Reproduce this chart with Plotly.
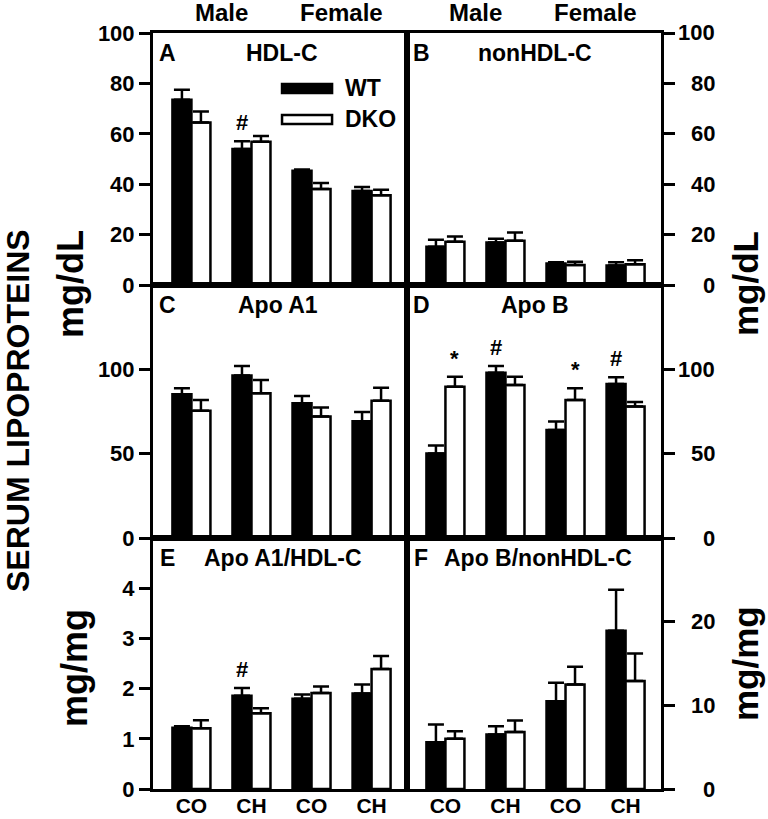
import plotly.graph_objects as go

# ---------------- data ----------------
groups = ["CO", "CH", "CO", "CH"]
sex_labels = ["Male", "Female"]
series_names = ["WT", "DKO"]

hdl_wt = [73.5, 54.0, 45.3, 37.3]
hdl_wt_err = [4.0, 3.0, 0.5, 1.6]
hdl_dko = [64.5, 56.8, 38.1, 35.6]
hdl_dko_err = [4.3, 2.3, 2.4, 2.2]

nonhdl_wt = [15.2, 16.9, 8.5, 7.7]
nonhdl_wt_err = [2.8, 1.5, 0.5, 1.3]
nonhdl_dko = [17.2, 17.6, 7.9, 8.2]
nonhdl_dko_err = [2.0, 3.2, 1.3, 1.6]

apoa1_wt = [85.2, 96.4, 79.9, 69.2]
apoa1_wt_err = [3.6, 5.6, 4.3, 5.5]
apoa1_dko = [75.5, 85.8, 72.0, 81.4]
apoa1_dko_err = [6.3, 7.9, 5.3, 7.7]

apob_wt = [50.1, 98.0, 64.1, 91.3]
apob_wt_err = [4.7, 4.0, 4.9, 4.0]
apob_dko = [89.7, 90.7, 81.8, 77.9]
apob_dko_err = [5.9, 4.9, 7.0, 2.8]

a1_hdl_wt = [1.22, 1.86, 1.80, 1.90]
a1_hdl_wt_err = [0.03, 0.15, 0.08, 0.18]
a1_hdl_dko = [1.21, 1.51, 1.91, 2.39]
a1_hdl_dko_err = [0.16, 0.10, 0.13, 0.26]

b_nonhdl_wt = [5.6, 6.5, 10.5, 18.9]
b_nonhdl_wt_err = [2.1, 1.0, 2.2, 4.9]
b_nonhdl_dko = [6.0, 6.8, 12.5, 12.9]
b_nonhdl_dko_err = [0.9, 1.4, 2.1, 3.3]

# significance marks: (panel index, group index, series index, symbol)
sig_marks = [
    (0, 1, 0, "#"),
    (3, 0, 1, "*"),
    (3, 1, 0, "#"),
    (3, 2, 1, "*"),
    (3, 3, 0, "#"),
    (4, 1, 0, "#"),
]

panels = [
    dict(letter="A", title="HDL-C", wt=hdl_wt, wte=hdl_wt_err, dko=hdl_dko, dkoe=hdl_dko_err,
         yrange=[0, 100], ticks=[0, 20, 40, 60, 80, 100], col=0, row=0, lx=0.059, tx=0.508),
    dict(letter="B", title="nonHDL-C", wt=nonhdl_wt, wte=nonhdl_wt_err, dko=nonhdl_dko, dkoe=nonhdl_dko_err,
         yrange=[0, 100], ticks=[0, 20, 40, 60, 80, 100], col=1, row=0, lx=0.059, tx=0.504),
    dict(letter="C", title="Apo A1", wt=apoa1_wt, wte=apoa1_wt_err, dko=apoa1_dko, dkoe=apoa1_dko_err,
         yrange=[0, 150], ticks=[0, 50, 100], col=0, row=1, lx=0.059, tx=0.492),
    dict(letter="D", title="Apo B", wt=apob_wt, wte=apob_wt_err, dko=apob_dko, dkoe=apob_dko_err,
         yrange=[0, 150], ticks=[0, 50, 100], col=1, row=1, lx=0.059, tx=0.504),
    dict(letter="E", title="Apo A1/HDL-C", wt=a1_hdl_wt, wte=a1_hdl_wt_err, dko=a1_hdl_dko, dkoe=a1_hdl_dko_err,
         yrange=[0, 5], ticks=[0, 1, 2, 3, 4], col=0, row=2, lx=0.059, tx=0.512),
    dict(letter="F", title="Apo B/nonHDL-C", wt=b_nonhdl_wt, wte=b_nonhdl_wt_err, dko=b_nonhdl_dko, dkoe=b_nonhdl_dko_err,
         yrange=[0, 30], ticks=[0, 10, 20], col=1, row=2, lx=0.055, tx=0.516),
]

# ---------------- layout geometry ----------------
W, H = 768, 819
x_domains = [[153 / W, 407 / W], [407 / W, 661 / W]]
y_domains = [[1 - 285 / H, 1 - 33 / H], [1 - 538 / H, 1 - 285 / H], [1 - 789 / H, 1 - 538 / H]]
xr = [-0.64, 3.59]
bargap = 0.367
offset = (1 - bargap) / 4

FONT = "Liberation Sans, Arial, sans-serif"
bold = lambda s: dict(family=FONT, size=s, color="black", weight="bold")

fig = go.Figure()
annotations = []
shapes = []
x_idx = list(range(len(groups)))

for i, p in enumerate(panels):
    n = "" if i == 0 else str(i + 1)
    xa, ya = "x" + n, "y" + n
    for s, (vals, errs, fill) in enumerate([(p["wt"], p["wte"], "black"), (p["dko"], p["dkoe"], "white")]):
        fig.add_trace(go.Bar(
            x=x_idx, y=vals, name=series_names[s], xaxis=xa, yaxis=ya, showlegend=False,
            marker=dict(color=fill, line=dict(color="black", width=2.5)),
            offsetgroup=str(s),
            error_y=dict(type="data", array=errs, arrayminus=[0] * len(errs), symmetric=False,
                         color="black", thickness=2.5, width=8, visible=True),
        ))
    right = p["col"] == 1
    bottom = p["row"] == 2
    fig.layout["xaxis" + n] = dict(
        domain=x_domains[p["col"]], anchor=ya, range=xr, showline=True, mirror=True,
        linecolor="black", linewidth=3, showgrid=False, zeroline=False, ticks="",
        tickvals=x_idx, ticktext=groups, showticklabels=bottom, tickfont=bold(21),
        ticklabelstandoff=-4, fixedrange=True, automargin=False,
    )
    fig.layout["yaxis" + n] = dict(
        domain=y_domains[p["row"]], anchor=xa, range=p["yrange"], showline=True, mirror=True,
        linecolor="black", linewidth=3, showgrid=False, zeroline=False,
        ticks="outside", ticklen=11, tickwidth=3, tickcolor="black",
        tickvals=p["ticks"], showticklabels=not right, tickfont=bold(22),
        side="right" if right else "left", automargin=False,
    )
    if right:
        for t in p["ticks"]:
            annotations.append(dict(x=717 / W, xref="paper", y=t, yref=ya, text=str(t),
                                    showarrow=False, xanchor="right", yanchor="middle", font=bold(22)))
    # panel letter and title
    annotations.append(dict(x=p["lx"], xref=xa + " domain", y=0.92, yref=ya + " domain", text=p["letter"],
                            showarrow=False, xanchor="center", yanchor="middle", font=bold(23)))
    annotations.append(dict(x=p["tx"], xref=xa + " domain", y=0.92, yref=ya + " domain", text=p["title"],
                            showarrow=False, xanchor="center", yanchor="middle", font=bold(23)))

# significance marks
for (pi, gi, si, sym) in sig_marks:
    p = panels[pi]
    n = "" if pi == 0 else str(pi + 1)
    vals = p["wt"] if si == 0 else p["dko"]
    errs = p["wte"] if si == 0 else p["dkoe"]
    annotations.append(dict(x=gi + (-offset if si == 0 else offset), xref="x" + n,
                            y=vals[gi] + errs[gi], yref="y" + n, text=sym, showarrow=False,
                            xanchor="center", yanchor="bottom", yshift=4, font=bold(22)))

# Male / Female headers
for xa in ["x", "x2"]:
    for k, lab in enumerate(sex_labels):
        annotations.append(dict(x=2 * k + 0.5, xref=xa, y=1 - 13 / H, yref="paper", text=lab,
                                showarrow=False, xanchor="center", yanchor="middle", font=bold(24)))

# legend (panel A)
for s, (fill, y0, y1) in enumerate([("black", 0.762, 0.798), ("white", 0.639, 0.675)]):
    shapes.append(dict(type="rect", xref="x domain", yref="y domain", x0=0.508, x1=0.705, y0=y0, y1=y1,
                       fillcolor=fill, line=dict(color="black", width=2.5)))
    annotations.append(dict(x=0.748, xref="x domain", y=(y0 + y1) / 2, yref="y domain", text=series_names[s],
                            showarrow=False, xanchor="left", yanchor="middle", font=bold(23)))

# axis titles
annotations += [
    dict(x=18 / W, y=1 - 411 / H, xref="paper", yref="paper", text="SERUM LIPOPROTEINS", textangle=-90,
         showarrow=False, xanchor="center", yanchor="middle", font=bold(32)),
    dict(x=70 / W, y=1 - 284 / H, xref="paper", yref="paper", text="mg/dL", textangle=-90,
         showarrow=False, xanchor="center", yanchor="middle", font=bold(36)),
    dict(x=74 / W, y=1 - 668 / H, xref="paper", yref="paper", text="mg/mg", textangle=-90,
         showarrow=False, xanchor="center", yanchor="middle", font=bold(36)),
    dict(x=745 / W, y=1 - 284 / H, xref="paper", yref="paper", text="mg/dL", textangle=-90,
         showarrow=False, xanchor="center", yanchor="middle", font=bold(35)),
    dict(x=745 / W, y=1 - 664 / H, xref="paper", yref="paper", text="mg/mg", textangle=-90,
         showarrow=False, xanchor="center", yanchor="middle", font=bold(35)),
]

fig.update_layout(
    width=W, height=H, margin=dict(l=0, r=0, t=0, b=0, autoexpand=False),
    paper_bgcolor="white", plot_bgcolor="white",
    barmode="group", bargap=bargap, bargroupgap=0,
    annotations=annotations, shapes=shapes, showlegend=False,
    font=dict(family=FONT, color="black"),
)

fig.write_html("out.html", config={"displayModeBar": False},
               post_script="document.body.style.margin='0px';document.body.style.overflow='hidden';")
